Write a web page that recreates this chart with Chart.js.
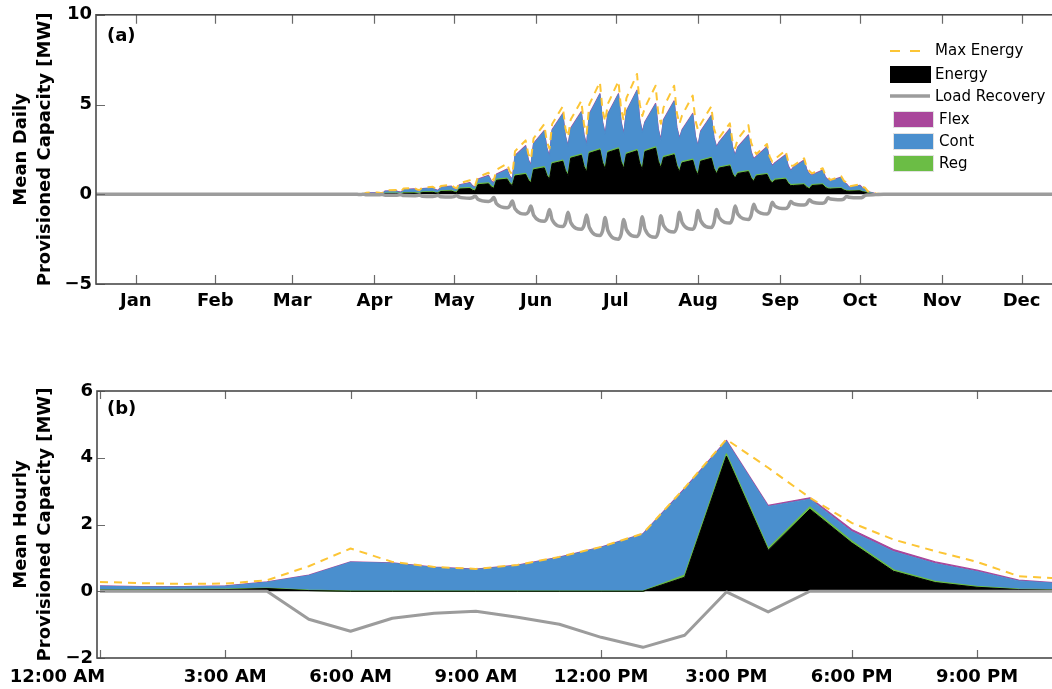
<!DOCTYPE html>
<html><head><meta charset="utf-8">
<script src="https://cdn.jsdelivr.net/npm/chart.js@4.4.0/dist/chart.umd.min.js"></script>
<style>
html,body{margin:0;padding:0;background:#fff;}
#fig{position:relative;width:1052px;height:689px;overflow:hidden;background:#fff;}
#wa{position:absolute;left:0;top:0;width:1070px;height:330px;}
#wb{position:absolute;left:0;top:370px;width:1070px;height:319px;}
</style></head><body>
<div id="fig">
<div id="wa"><canvas id="ca" width="1070" height="330"></canvas></div>
<div id="wb"><canvas id="cb" width="1070" height="319"></canvas></div>
</div>
<script>
// ---------------- (a) daily data (day of year, 0 = Jan 1) ----------------
const dayOfYear = [0,98,
 99,100,101,102, 106,107,108,109, 113,114,115,116, 120,121,122,123,
 127,128,129,130, 134,135,136,137, 141,142,143,144, 148,149,150,151,
 155,156,157,158, 162,163,164,165, 169,170,171,172, 176,177,178,179,
 183,184,185,186, 190,191,192,193, 197,198,199,200, 204,205,206,207,
 211,212,213,214, 218,219,220,221, 225,226,227,228, 232,233,234,235,
 239,240,241,242, 246,247,248,249, 253,254,255,256, 260,261,262,263,
 267,268,269,270, 274,275,276,277, 281,282,283,284, 288,289,290,291,
 294,297,365];

const energyDaily = [0,0,
 0,0,0,0.02, 0.02,0.015,0.01,0.04, 0.04,0.03,0.02,0.06, 0.06,0.045,0.036,0.10,
 0.105,0.075,0.06,0.155, 0.17,0.12,0.10,0.29, 0.315,0.225,0.18,0.53, 0.58,0.41,0.33,0.78,
 0.84,0.60,0.48,1.02, 1.10,0.79,0.63,1.36, 1.47,1.05,0.84,1.70, 1.84,1.31,1.05,2.01,
 2.17,1.55,1.24,2.28, 2.47,1.76,1.41,2.33, 2.52,1.80,1.44,2.23, 2.42,1.73,1.38,2.38,
 2.57,1.84,1.47,2.04, 2.20,1.58,1.26,1.75, 1.89,1.35,1.08,1.84, 2.00,1.43,1.14,1.46,
 1.58,1.13,0.90,1.16, 1.26,0.90,0.72,1.02, 1.10,0.79,0.63,0.78, 0.84,0.60,0.48,0.49,
 0.53,0.38,0.30,0.49, 0.53,0.38,0.30,0.29, 0.32,0.23,0.18,0.17, 0.19,0.14,0.11,0.05,
 0.01,0,0];

const regDaily = [0,0,
 0,0,0,0, 0.01,0.01,0.01,0.01, 0.02,0.02,0.02,0.02, 0.03,0.03,0.03,0.03,
 0.03,0.03,0.03,0.03, 0.04,0.04,0.04,0.04, 0.05,0.05,0.05,0.05, 0.05,0.05,0.05,0.05,
 0.05,0.05,0.05,0.05, 0.06,0.06,0.06,0.06, 0.06,0.06,0.06,0.06, 0.06,0.06,0.06,0.06,
 0.06,0.06,0.06,0.06, 0.06,0.06,0.06,0.06, 0.06,0.06,0.06,0.06, 0.06,0.06,0.06,0.06,
 0.06,0.06,0.06,0.06, 0.06,0.06,0.06,0.06, 0.06,0.06,0.06,0.06, 0.05,0.05,0.05,0.05,
 0.05,0.05,0.05,0.05, 0.05,0.05,0.05,0.05, 0.05,0.05,0.05,0.05, 0.05,0.05,0.05,0.05,
 0.04,0.04,0.04,0.04, 0.04,0.04,0.04,0.04, 0.03,0.03,0.03,0.03, 0.02,0.02,0.02,0.02,
 0,0,0];

const contDaily = [0,0,
 0.02,0.015,0.01,0.05, 0.04,0.025,0.02,0.12, 0.12,0.07,0.06,0.17, 0.19,0.125,0.094,0.17,
 0.205,0.135,0.11,0.195, 0.22,0.14,0.11,0.17, 0.255,0.165,0.13,0.23, 0.39,0.27,0.22,0.26,
 0.48,0.33,0.28,1.06, 1.51,1.06,0.90,1.39, 1.99,1.42,1.20,1.81, 2.57,1.84,1.56,1.58,
 2.34,1.67,1.43,2.11, 3.04,2.18,1.86,2.06, 2.99,2.14,1.83,2.32, 3.29,2.36,2.01,1.57,
 2.39,1.71,1.47,2.03, 2.91,2.07,1.77,1.76, 2.52,1.80,1.53,1.59, 2.32,1.66,1.42,1.38,
 1.99,1.42,1.21,1.40, 1.96,1.40,1.18,1.02, 1.47,1.04,0.88,0.90, 1.28,0.90,0.76,0.95,
 1.30,0.92,0.77,0.52, 0.75,0.52,0.44,0.40, 0.58,0.40,0.34,0.18, 0.27,0.18,0.15,0.06,
 0.02,0,0];

const flexDaily = [0,0,
 0,0,0,0, 0.01,0.01,0.01,0.01, 0.02,0.02,0.02,0.02, 0.02,0.02,0.02,0.02,
 0.02,0.02,0.02,0.02, 0.02,0.02,0.02,0.02, 0.03,0.03,0.03,0.03, 0.03,0.03,0.03,0.03,
 0.03,0.03,0.03,0.03, 0.03,0.03,0.03,0.03, 0.03,0.03,0.03,0.03, 0.03,0.03,0.03,0.03,
 0.03,0.03,0.03,0.03, 0.03,0.03,0.03,0.03, 0.03,0.03,0.03,0.03, 0.03,0.03,0.03,0.03,
 0.03,0.03,0.03,0.03, 0.03,0.03,0.03,0.03, 0.03,0.03,0.03,0.03, 0.03,0.03,0.03,0.03,
 0.03,0.03,0.03,0.03, 0.03,0.03,0.03,0.03, 0.03,0.03,0.03,0.03, 0.03,0.03,0.03,0.03,
 0.03,0.03,0.03,0.03, 0.03,0.03,0.03,0.03, 0.02,0.02,0.02,0.02, 0.02,0.02,0.02,0.02,
 0,0,0];

const maxEnergyDaily = [0,0,
 0.03,0.02,0.02,0.09, 0.10,0.08,0.07,0.21, 0.24,0.18,0.16,0.32, 0.36,0.27,0.23,0.37,
 0.42,0.32,0.27,0.46, 0.52,0.39,0.34,0.62, 0.78,0.59,0.51,0.96, 1.20,0.90,0.78,1.36,
 1.70,1.28,1.10,2.40, 3.00,2.25,1.95,3.12, 3.90,2.93,2.54,3.92, 4.90,3.68,3.19,4.16,
 5.20,3.90,3.38,5.00, 6.25,4.69,4.06,5.04, 6.30,4.73,4.10,5.36, 6.70,5.03,4.36,4.84,
 6.05,4.54,3.93,4.84, 6.05,4.54,3.93,4.40, 5.50,4.13,3.58,3.92, 4.90,3.68,3.19,3.16,
 3.95,2.96,2.57,3.08, 3.85,2.89,2.50,2.24, 2.80,2.10,1.82,1.96, 2.45,1.84,1.59,1.60,
 2.00,1.50,1.30,1.16, 1.45,1.09,0.94,0.80, 1.00,0.75,0.65,0.44, 0.55,0.41,0.36,0.17,
 0.04,0,0];

const loadRecoveryDaily = [0,0,
 -0.01,-0.01,0,-0.03, -0.03,-0.025,-0.01,-0.05, -0.05,-0.04,-0.02,-0.075, -0.08,-0.07,-0.04,-0.11,
 -0.12,-0.10,-0.06,-0.14, -0.15,-0.13,-0.07,-0.16, -0.22,-0.19,-0.10,-0.28, -0.40,-0.345,-0.18,-0.52,
 -0.75,-0.66,-0.38,-0.81, -1.10,-0.99,-0.65,-1.16, -1.50,-1.34,-0.85,-1.42, -1.80,-1.60,-1.00,-1.57,
 -1.95,-1.75,-1.15,-1.84, -2.30,-2.05,-1.30,-2.02, -2.50,-2.23,-1.40,-1.97, -2.35,-2.08,-1.25,-1.94,
 -2.40,-2.10,-1.20,-1.74, -2.10,-1.83,-1.00,-1.57, -1.95,-1.69,-0.90,-1.47, -1.85,-1.60,-0.85,-1.30,
 -1.60,-1.36,-0.65,-1.10, -1.40,-1.19,-0.55,-0.88, -1.10,-0.94,-0.45,-0.66, -0.80,-0.70,-0.40,-0.52,
 -0.60,-0.53,-0.30,-0.42, -0.50,-0.43,-0.20,-0.26, -0.30,-0.26,-0.12,-0.17, -0.20,-0.17,-0.06,-0.04,
 -0.02,0,0];

const monthLabels = ['Jan','Feb','Mar','Apr','May','Jun','Jul','Aug','Sep','Oct','Nov','Dec'];
const monthTickDays = [15,45,74,105,135,166,196,227,258,288,319,349];

// ---------------- (b) hourly data ----------------
const hourOfDay = [0,1,2,3,4,5,6,7,8,9,10,11,12,13,14,15,16,17,18,19,20,21,22,23];
const energyHourly = [0.03,0.03,0.04,0.05,0.08,0.02,0,0,0,0,0,0,0,0,0.42,4.05,1.23,2.46,1.45,0.60,0.26,0.12,0.05,0.03];
const regHourly = [0.01,0.01,0.01,0.01,0.01,0.01,0,0,0,0,0,0,0,0,0.06,0.06,0.05,0.06,0.05,0.04,0.03,0.02,0.01,0.01];
const contHourly = [0.11,0.09,0.08,0.09,0.18,0.44,0.87,0.84,0.71,0.65,0.77,1.01,1.31,1.71,2.58,0.39,1.26,0.24,0.29,0.55,0.54,0.45,0.25,0.19];
const flexHourly = [0.01,0.01,0.01,0.01,0.01,0.01,0.01,0.01,0.01,0.01,0.01,0.01,0.01,0.01,0.02,0.02,0.03,0.04,0.06,0.06,0.05,0.04,0.02,0.01];
const maxEnergyHourly = [0.28,0.24,0.22,0.23,0.33,0.75,1.28,0.88,0.73,0.67,0.79,1.03,1.33,1.73,3.10,4.55,3.70,2.80,2.05,1.55,1.20,0.88,0.45,0.38];
const loadRecoveryHourly = [0,0,0,0,0,-0.84,-1.20,-0.81,-0.66,-0.60,-0.78,-0.99,-1.38,-1.68,-1.32,-0.02,-0.62,0,0,0,0,0,0,0];
const hourTickValues = [0,3,6,9,12,15,18,21];
const hourTickLabels = ['12:00 AM','3:00 AM','6:00 AM','9:00 AM','12:00 PM','3:00 PM','6:00 PM','9:00 PM'];

// ---------------- styling ----------------
const C_ENERGY = '#000000', C_REG = '#6bbd45', C_CONT = '#4a8fce', C_FLEX = '#a9479b',
      C_MAX = '#fcc535', C_LOAD = '#9c9c9c', C_AXIS = '#4a4a4a', C_TICK = '#6a6a6a';
const FONT = "'DejaVu Sans', sans-serif";
Chart.defaults.font.family = FONT;
Chart.defaults.color = '#000';

function add(a, b) { return a.map((v, i) => v + b[i]); }
function xy(xs, ys) { return xs.map((x, i) => ({x: x, y: ys[i]})); }

function makeDatasets(xs, e, r, c, f, m, l, loadW, smoothLoad) {
  const er = add(e, r), erc = add(er, c), ercf = add(erc, f);
  const base = {pointRadius: 0, tension: 0, borderJoinStyle: 'round'};
  const load = Object.assign({label: 'Load Recovery', data: xy(xs, l), borderColor: C_LOAD, borderWidth: loadW, fill: false, order: 0}, base);
  if (smoothLoad) load.cubicInterpolationMode = 'monotone';
  return [
    Object.assign({label: 'Energy', data: xy(xs, e), borderColor: C_ENERGY, backgroundColor: C_ENERGY, borderWidth: 1, fill: 'origin', order: 1}, base),
    Object.assign({label: 'Reg', data: xy(xs, er), borderColor: C_REG, backgroundColor: C_REG, borderWidth: 1.5, fill: '-1', order: 3}, base),
    Object.assign({label: 'Cont', data: xy(xs, erc), borderColor: C_CONT, backgroundColor: C_CONT, borderWidth: 1, fill: '-1', order: 4}, base),
    Object.assign({label: 'Flex', data: xy(xs, ercf), borderColor: C_FLEX, backgroundColor: C_FLEX, borderWidth: 1.3, fill: '-1', order: 5}, base),
    Object.assign({label: 'Max Energy', data: xy(xs, m), borderColor: C_MAX, borderWidth: 2, borderDash: [8, 6], fill: false, order: 2}, base),
    load
  ];
}

function drawLegend(ctx) {
  ctx.save();
  ctx.font = "15px " + FONT;
  ctx.textBaseline = 'middle'; ctx.textAlign = 'left'; ctx.fillStyle = '#000';
  ctx.strokeStyle = C_MAX; ctx.lineWidth = 2; ctx.setLineDash([10, 10]);
  ctx.beginPath(); ctx.moveTo(890, 51); ctx.lineTo(922, 51); ctx.stroke();
  ctx.setLineDash([]);
  ctx.fillText('Max Energy', 935, 51);
  ctx.fillStyle = C_ENERGY; ctx.fillRect(890, 66, 41, 17);
  ctx.fillStyle = '#000'; ctx.fillText('Energy', 935, 75);
  ctx.strokeStyle = C_LOAD; ctx.lineWidth = 3.5;
  ctx.beginPath(); ctx.moveTo(890, 96); ctx.lineTo(930, 96); ctx.stroke();
  ctx.fillText('Load Recovery', 935, 97);
  const boxes = [['Flex', C_FLEX, 111], ['Cont', C_CONT, 133], ['Reg', C_REG, 155]];
  boxes.forEach(b => {
    ctx.fillStyle = b[1]; ctx.fillRect(893, b[2], 41, 17);
    ctx.strokeStyle = '#e2e2e2'; ctx.lineWidth = 1; ctx.strokeRect(893.5, b[2] + 0.5, 40, 16);
    ctx.fillStyle = '#000'; ctx.fillText(b[0], 939, b[2] + 9);
  });
  ctx.restore();
}

const panelPlugin = {
  id: 'panel',
  afterDraw(chart, args, o) {
    const ctx = chart.ctx, a = chart.chartArea, x = chart.scales.x, y = chart.scales.y;
    ctx.save();
    ctx.strokeStyle = C_TICK; ctx.lineWidth = 1.2;
    ctx.beginPath();
    x.ticks.forEach(t => {
      const p = Math.round(x.getPixelForValue(t.value)) + 0.5;
      ctx.moveTo(p, a.bottom); ctx.lineTo(p, a.bottom - o.tick);
      ctx.moveTo(p, a.top); ctx.lineTo(p, a.top + o.tick);
    });
    y.ticks.forEach(t => {
      const p = Math.round(y.getPixelForValue(t.value)) + 0.5;
      ctx.moveTo(a.left, p); ctx.lineTo(a.left + o.tick, p);
      ctx.moveTo(a.right, p); ctx.lineTo(a.right - o.tick, p);
    });
    ctx.stroke();
    ctx.strokeStyle = C_AXIS; ctx.lineWidth = 1.6;
    ctx.strokeRect(a.left, a.top, a.right - a.left, a.bottom - a.top);
    ctx.fillStyle = '#000';
    ctx.font = "bold 18px " + FONT;
    ctx.textBaseline = 'middle'; ctx.textAlign = 'left';
    ctx.fillText(o.label, o.lx, o.ly);
    if (o.firstLabel) {
      ctx.textAlign = 'center';
      ctx.fillText(o.firstLabel, o.firstX, a.bottom + o.pad + 10.8);
    }
    if (o.legend) drawLegend(ctx);
    ctx.restore();
  }
};

const tickFont = {size: 18, weight: 'bold'};
const titleFont = {size: 18, weight: 'bold', lineHeight: 1.3334};
function fmt(v) { return v < 0 ? '\u2212' + Math.abs(v) : String(v); }

// ---------------- chart (a) ----------------
new Chart(document.getElementById('ca'), {
  type: 'line',
  data: {datasets: makeDatasets(dayOfYear, energyDaily, regDaily, contDaily, flexDaily, maxEnergyDaily, loadRecoveryDaily, 3.5, true)},
  plugins: [panelPlugin],
  options: {
    responsive: false, animation: false, devicePixelRatio: 1, events: [],
    layout: {padding: {top: 14, left: 0, right: 6, bottom: 0}},
    plugins: {
      legend: {display: false}, tooltip: {enabled: false},
      panel: {tick: 9, label: '(a)', lx: 107, ly: 36, legend: true}
    },
    scales: {
      x: {
        type: 'linear', min: 0, max: 365,
        grid: {display: false, drawTicks: false}, border: {display: false},
        afterBuildTicks: s => { s.ticks = monthTickDays.map(v => ({value: v})); },
        afterFit: s => { s.height = 46; },
        ticks: {font: tickFont, color: '#000', padding: 7, autoSkip: false, maxRotation: 0, minRotation: 0,
                callback: (v, i) => monthLabels[i]}
      },
      y: {
        type: 'linear', min: -5, max: 10,
        grid: {display: false, drawTicks: false}, border: {display: false},
        afterFit: s => { s.width = 96; },
        ticks: {stepSize: 5, font: tickFont, color: '#000', padding: 4, callback: v => fmt(v)},
        title: {display: true, text: ['Mean Daily', 'Provisioned Capacity [MW]'], font: titleFont, color: '#000', padding: {top: 9, bottom: 0}}
      }
    }
  }
});

// ---------------- chart (b) ----------------
new Chart(document.getElementById('cb'), {
  type: 'line',
  data: {datasets: makeDatasets(hourOfDay, energyHourly, regHourly, contHourly, flexHourly, maxEnergyHourly, loadRecoveryHourly, 3, false)},
  plugins: [panelPlugin],
  options: {
    responsive: false, animation: false, devicePixelRatio: 1, events: [],
    layout: {padding: {top: 21, left: 0, right: 9.5, bottom: 0}},
    plugins: {
      legend: {display: false}, tooltip: {enabled: false},
      panel: {tick: 8, label: '(b)', lx: 107, ly: 39, firstLabel: hourTickLabels[0], firstX: 57.5, pad: 9}
    },
    scales: {
      x: {
        type: 'linear', min: -0.072, max: 23,
        grid: {display: false, drawTicks: false}, border: {display: false},
        afterBuildTicks: s => { s.ticks = hourTickValues.map(v => ({value: v})); },
        afterFit: s => { s.height = 31; },
        ticks: {font: tickFont, color: '#000', padding: 9, autoSkip: false, maxRotation: 0, minRotation: 0,
                callback: (v, i) => i === 0 ? '' : hourTickLabels[i]}
      },
      y: {
        type: 'linear', min: -2, max: 6,
        grid: {display: false, drawTicks: false}, border: {display: false},
        afterFit: s => { s.width = 97; },
        ticks: {stepSize: 2, font: tickFont, color: '#000', padding: 4, callback: v => fmt(v)},
        title: {display: true, text: ['Mean Hourly', 'Provisioned Capacity [MW]'], font: titleFont, color: '#000', padding: {top: 9, bottom: 0}}
      }
    }
  }
});
</script>
</body></html>
